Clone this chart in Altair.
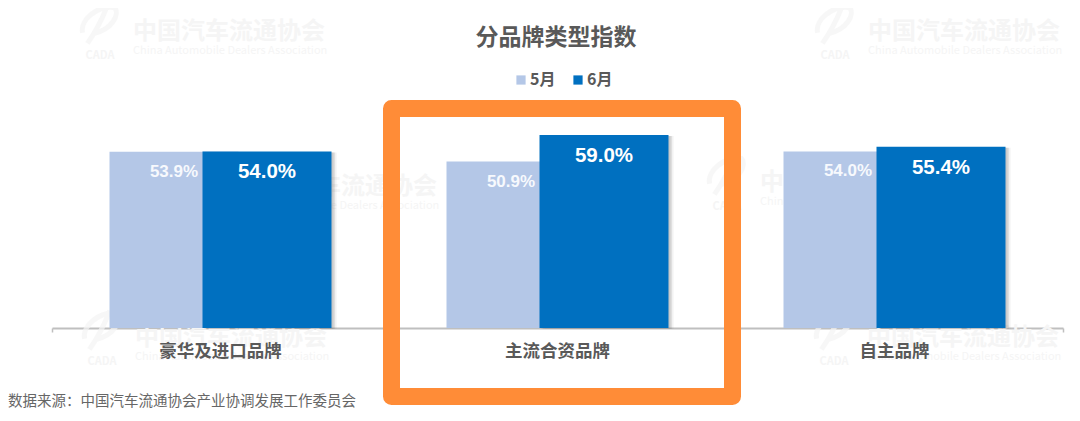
import altair as alt
import pandas as pd

categories = ["豪华及进口品牌", "主流合资品牌", "自主品牌"]
may_values = [53.9, 50.9, 54.0]
june_values = [54.0, 59.0, 55.4]
series_names = ["5月", "6月"]
title_text = "分品牌类型指数"
source_text = "数据来源：中国汽车流通协会产业协调发展工作委员会"
watermark_cn = "中国汽车流通协会"
watermark_en = "China Automobile Dealers Association"
logo_text = "CADA"

CJK = "Noto Sans CJK SC"
LATIN = "Liberation Sans"
PX, PY = 52, 70  # page position of the plot origin
LIGHT, DARK = "#B4C7E7", "#0070C0"

df = pd.DataFrame({
    "category": categories * 2,
    "series": [series_names[0]] * 3 + [series_names[1]] * 3,
    "value": may_values + june_values,
    "label": [f"{v:.1f}%" for v in may_values + june_values],
})
one = pd.DataFrame({"a": [0]})
cat_df = pd.DataFrame({"category": categories})

x = alt.X("category:N", sort=categories, title=None,
          scale=alt.Scale(paddingInner=0, paddingOuter=0),
          axis=alt.Axis(labels=False, domainColor="#BFBFBF", domainWidth=2,
                        tickColor="#BFBFBF", tickSize=4, tickWidth=1.5, tickBand="extent"))
y = alt.Y("value:Q", title=None, scale=alt.Scale(domain=[0, 78.9], nice=False, zero=True), axis=None)
color = alt.Color("series:N", title=None,
                  scale=alt.Scale(domain=series_names, range=[LIGHT, DARK]),
                  legend=alt.Legend(orient="none", legendX=461, legendY=2, direction="horizontal",
                                    symbolType="square", symbolSize=85, symbolStrokeWidth=0,
                                    labelFont=CJK, labelFontSize=16, labelFontWeight="bold",
                                    labelColor="#595959", labelOffset=1, columnPadding=14,
                                    padding=0))


def page_text(text, px, py, size, col, weight="normal", align="left", font=CJK):
    return alt.Chart(one).mark_text(text=text, font=font, fontSize=size, color=col, fontWeight=weight,
                                    align=align, baseline="middle").encode(
        x=alt.value(px - PX), y=alt.value(py - PY))


LOGO = ("M-0.9,0.45 C-1.05,-0.2 -0.1,-1 0.75,-0.85 C1.05,-0.5 0.6,0.3 -0.35,0.5 "
        "M0.4,-1 C0.1,-0.2 -0.3,0.5 -0.65,1")


def watermark(left, cy):
    wm = "#F5F5F5"
    return [
        page_text(watermark_cn, left, cy, 24, wm, "bold"),
        page_text(watermark_en, left, cy + 19, 11, wm),
        alt.Chart(one).mark_point(shape=LOGO, filled=False, stroke=wm, strokeWidth=5, size=1500).encode(
            x=alt.value(left - 33 - PX), y=alt.value(cy - 8 - PY)),
        page_text(logo_text, left - 33, cy + 24, 11, wm, "bold", "center"),
    ]


layers = []
for left, cy in [(133, 32), (868, 32), (245, 187), (760, 183), (135, 338), (867, 338)]:
    layers += watermark(left, cy)

base = alt.Chart(df).encode(x=x, y=y)
may = base.transform_filter(alt.datum.series == series_names[0])
june = base.transform_filter(alt.datum.series == series_names[1])

layers.append(may.mark_bar(width=129, xOffset=-46.5).encode(color=color))
for dx, op in [(5, 0.10), (3.5, 0.16), (2, 0.22)]:
    layers.append(june.mark_bar(width=129, xOffset=46.5 + dx, yOffset=1, color="#7F7F7F", opacity=op))
layers.append(june.mark_bar(width=129, xOffset=46.5).encode(color=color))
layers.append(may.mark_text(font=LATIN, fontSize=17, fontWeight="bold", color="#F7F9FD",
                            baseline="middle", dx=-46.5, dy=20).encode(text="label:N"))
layers.append(june.mark_text(font=LATIN, fontSize=20.5, fontWeight="bold", color="#FFFFFF",
                             baseline="middle", dx=46.5, dy=21).encode(text="label:N"))
layers.append(alt.Chart(cat_df).mark_text(font=CJK, fontSize=17.5, fontWeight="bold", color="#595959",
                                          baseline="middle", dy=24).encode(
    x=x, y=alt.value(258), text="category:N"))

layers.append(alt.Chart(one).mark_rect(fillOpacity=0, stroke="#FF8C37", strokeWidth=17, strokeJoin="round").encode(
    x=alt.value(391.5 - PX), x2=alt.value(732.5 - PX), y=alt.value(108.5 - PY), y2=alt.value(396.5 - PY)))
layers.append(page_text(title_text, 556, 38, 23, "#595959", "bold", "center"))
layers.append(page_text(source_text, 8, 402, 14.5, "#666666"))

chart = alt.layer(*layers).properties(
    width=1011, height=258,
    padding={"left": 44, "top": 62, "right": 9, "bottom": 85},
    autosize=alt.AutoSizeParams(type="none"),
    background="#FFFFFF",
).configure_view(stroke=None)

chart.save("out.html", embed_options={"renderer": "svg", "actions": False})
